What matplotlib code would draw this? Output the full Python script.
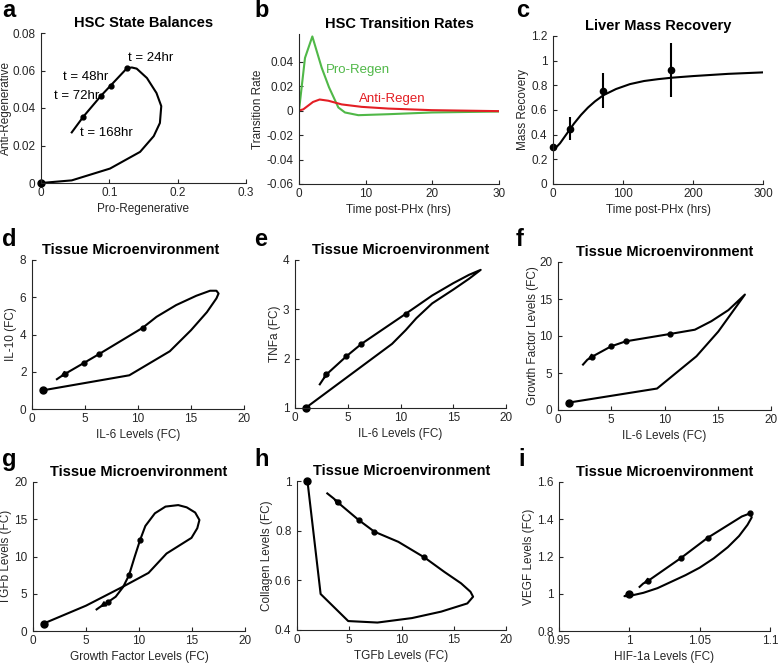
import matplotlib
matplotlib.use("Agg")
import matplotlib.pyplot as plt
from matplotlib.ticker import FormatStrFormatter

plt.rcParams['font.family'] = ['Liberation Sans', 'DejaVu Sans']
plt.rcParams['font.size'] = 8
GREY = '#262626'

### data ###

# a - HSC state balances
a_pro = [0, 0.045, 0.101, 0.145, 0.165, 0.174, 0.176, 0.169, 0.155, 0.140, 0.133,
         0.126, 0.102, 0.088, 0.062, 0.045]
a_anti = [0, 0.0014, 0.0077, 0.0166, 0.025, 0.032, 0.041, 0.048, 0.056, 0.061, 0.0616,
          0.0613, 0.052, 0.0466, 0.0354, 0.027]
a_mk_pro = [0.126, 0.102, 0.088, 0.062]
a_mk_anti = [0.0613, 0.052, 0.0466, 0.0354]
a_labels = ['t = 24hr', 't = 48hr', 't = 72hr', 't = 168hr']

# b - transition rates
b_t_pro = [0, 0.9, 2.0, 3.4, 4.5, 5.9, 6.9, 8.9, 13.4, 19.9, 30]
b_pro = [0, 0.043, 0.0605, 0.035, 0.019, 0.0025, -0.0016, -0.0038, -0.003, -0.0016, -0.0008]
b_t_anti = [0, 0.65, 2.1, 3.1, 4.4, 6.4, 9.4, 13.4, 19.9, 30]
b_anti = [0, 0.001, 0.007, 0.009, 0.008, 0.005, 0.003, 0.0016, 0.0003, -0.0005]

# c - liver mass recovery
c_t = [0, 5, 10, 20, 30, 40, 50, 60, 72, 90, 110, 130, 150, 170, 200, 250, 300]
c_mass = [0.3, 0.3, 0.33, 0.41, 0.49, 0.56, 0.62, 0.67, 0.72, 0.77, 0.81, 0.835, 0.85,
          0.862, 0.875, 0.893, 0.905]
c_obs_t = [0, 24, 72, 168]
c_obs = [0.3, 0.45, 0.755, 0.925]
c_err = [0.0, 0.095, 0.142, 0.218]

# d - IL-6 vs IL-10
d_x = [1, 9.18, 13.0, 15.0, 16.5, 17.4, 17.6, 17.4, 16.8, 15.5, 13.6, 11.75, 10.44,
       6.3, 4.92, 3.07, 2.66, 2.35]
d_y = [1, 1.81, 3.1, 4.23, 5.2, 5.94, 6.2, 6.35, 6.35, 6.08, 5.58, 4.95, 4.36,
       2.94, 2.48, 1.87, 1.72, 1.6]
d_mk_x = [10.44, 6.3, 4.92, 3.07]
d_mk_y = [4.36, 2.94, 2.48, 1.87]

# e - IL-6 vs TNFa
e_x = [1, 9.2, 10.5, 11.5, 13.0, 15.0, 16.5, 17.6, 16.5, 15.0, 13.0, 10.5, 6.3, 4.88,
       2.98, 2.66, 2.35]
e_y = [1, 2.3, 2.58, 2.82, 3.12, 3.4, 3.62, 3.8, 3.7, 3.53, 3.28, 2.91, 2.30, 2.05,
       1.68, 1.58, 1.48]
e_mk_x = [10.5, 6.3, 4.88, 2.98]
e_mk_y = [2.91, 2.30, 2.05, 1.68]

# f - IL-6 vs growth factor
f_x = [1, 9.3, 13.0, 15.05, 17.55, 16.0, 14.4, 12.85, 10.5, 6.36, 4.98, 3.2, 2.76, 2.35]
f_y = [1, 2.9, 7.26, 10.6, 15.6, 13.5, 12.0, 10.85, 10.27, 9.28, 8.6, 7.2, 6.8, 6.14]
f_mk_x = [10.5, 6.36, 4.98, 3.2]
f_mk_y = [10.27, 9.28, 8.6, 7.2]

# g - growth factor vs TGFb
g_x = [1, 5.0, 8.5, 10.9, 12.6, 14.95, 15.5, 15.7, 15.3, 14.5, 13.7, 12.5, 11.5, 10.6,
       10.1, 9.6, 9.06, 8.5, 7.8, 7.05, 6.3, 6.0]
g_y = [1, 3.4, 5.96, 7.8, 10.4, 12.5, 13.8, 14.9, 15.9, 16.6, 16.9, 16.7, 15.8, 14.1,
       12.2, 10.0, 7.5, 5.9, 4.6, 3.86, 3.2, 2.9]
g_mk_x = [10.1, 9.06, 7.05]
g_mk_y = [12.2, 7.5, 3.86]

# h - TGFb vs collagen
h_x = [1, 2.26, 4.9, 7.7, 11.0, 13.8, 16.3, 16.85, 16.6, 15.7, 14.1, 12.2, 9.7, 7.4,
       5.9, 3.9, 3.5, 2.9]
h_y = [1, 0.545, 0.436, 0.43, 0.448, 0.474, 0.507, 0.534, 0.554, 0.588, 0.634, 0.692,
       0.755, 0.796, 0.843, 0.914, 0.93, 0.95]
h_mk_x = [12.2, 7.4, 5.9, 3.9]
h_mk_y = [0.692, 0.796, 0.843, 0.914]

# i - HIF-1a vs VEGF
i_x = [1.0, 0.9975, 0.9965, 1.0, 1.01, 1.02, 1.03, 1.04, 1.05, 1.06, 1.07, 1.078, 1.084,
       1.087, 1.086, 1.08, 1.0556, 1.0369, 1.0135, 1.0099, 1.0073]
i_y = [1.0, 0.99, 0.987, 0.988, 1.005, 1.03, 1.065, 1.10, 1.14, 1.19, 1.25, 1.31, 1.37,
       1.41, 1.432, 1.415, 1.30, 1.193, 1.07, 1.055, 1.037]
i_mk_x = [1.086, 1.0556, 1.0369, 1.0135]
i_mk_y = [1.432, 1.30, 1.193, 1.07]


### helpers ###

fig = plt.figure(figsize=(7.78, 6.66), dpi=100)
W, H = 778.0, 666.0


def ax_at(l, t, r, b):
    return fig.add_axes([l / W, 1 - b / H, (r - l) / W, (b - t) / H])


def style(ax, xlim, ylim, xticks, yticks, xlabel, ylabel, title, yoff, tx=0.5):
    ax.set_xlim(xlim)
    ax.set_ylim(ylim)
    ax.set_xticks(xticks)
    ax.set_yticks(yticks)
    ax.xaxis.set_major_formatter(FormatStrFormatter('%g'))
    ax.yaxis.set_major_formatter(FormatStrFormatter('%g'))
    for s in ['top', 'right']:
        ax.spines[s].set_visible(False)
    for s in ['left', 'bottom']:
        ax.spines[s].set_color(GREY)
        ax.spines[s].set_linewidth(0.8)
    ax.tick_params(direction='in', length=3, width=0.8, colors=GREY, labelsize=8.5)
    ax.tick_params(axis='x', pad=3)
    ax.tick_params(axis='y', pad=4)
    ax.set_xlabel(xlabel, fontsize=8.5, color=GREY, labelpad=3)
    ax.set_ylabel(ylabel, fontsize=8.5, color=GREY)
    # yoff = distance in pixels from the axis to the centre of the y label;
    # the label anchor is its right edge, about 5 px right of the centre
    w_px = ax.get_position().width * W
    ax.yaxis.set_label_coords(-(yoff - 5) / w_px, 0.5)
    ax.set_title(title, fontsize=10.5, fontweight='bold', pad=4, x=tx)


def trajectory(ax, x, y, mx, my, arrow=True):
    ax.plot(x, y, color='k', lw=1.5, clip_on=False, solid_joinstyle='round')
    ax.plot(mx, my, 'o', color='k', ms=3.5, clip_on=False)
    ax.plot(x[0], y[0], 'o', color='k', ms=5, clip_on=False)
    if arrow:  # small head pointing along the end of the path
        ax.annotate('', xy=(x[-2], y[-2]), xytext=(x[-3], y[-3]),
                    arrowprops=dict(arrowstyle='-|>', color='k', lw=1.2, mutation_scale=8,
                                    shrinkA=0, shrinkB=0))


def letter(x, y, s):
    fig.text(x / W, 1 - y / H, s, fontsize=17, fontweight='bold', va='baseline')


### a ###
ax = ax_at(41, 33, 246, 183)
trajectory(ax, a_pro, a_anti, a_mk_pro, a_mk_anti, arrow=False)
ax.text(0.128, 0.0665, a_labels[0], fontsize=9.5, ha='left', va='center')
ax.text(0.098, 0.0565, a_labels[1], fontsize=9.5, ha='right', va='center')
ax.text(0.085, 0.0463, a_labels[2], fontsize=9.5, ha='right', va='center')
ax.text(0.057, 0.0268, a_labels[3], fontsize=9.5, ha='left', va='center')
style(ax, (0, 0.3), (0, 0.08), [0, 0.1, 0.2, 0.3], [0, 0.02, 0.04, 0.06, 0.08],
      'Pro-Regenerative', 'Anti-Regenerative', 'HSC State Balances', 34)

### b ###
ax = ax_at(299, 34, 499, 184)
green, red = '#50b848', '#e31e24'
ax.plot(b_t_pro, b_pro, color=green, lw=1.5)
ax.plot(b_t_anti, b_anti, color=red, lw=1.5)
ax.text(4.0, 0.033, 'Pro-Regen', color=green, fontsize=9.5, va='center')
ax.text(9.0, 0.0098, 'Anti-Regen', color=red, fontsize=9.5, va='center')
style(ax, (0, 30), (-0.06, 0.0625), [0, 10, 20, 30], [-0.06, -0.04, -0.02, 0, 0.02, 0.04],
      'Time post-PHx (hrs)', 'Transition Rate', 'HSC Transition Rates', 40)

### c ###
ax = ax_at(553, 36, 763, 184)
ax.plot(c_t, c_mass, color='k', lw=1.5)
ax.errorbar(c_obs_t, c_obs, yerr=c_err, fmt='o', color='k', ms=4.5, elinewidth=1.5,
            capsize=0, clip_on=False)
style(ax, (0, 300), (0, 1.2), [0, 100, 200, 300], [0, 0.2, 0.4, 0.6, 0.8, 1, 1.2],
      'Time post-PHx (hrs)', 'Mass Recovery', 'Liver Mass Recovery', 29)

### d ###
ax = ax_at(32, 260, 244, 409)
trajectory(ax, d_x, d_y, d_mk_x, d_mk_y)
style(ax, (0, 20), (0, 8), [0, 5, 10, 15, 20], [0, 2, 4, 6, 8],
      'IL-6 Levels (FC)', 'IL-10 (FC)', 'Tissue Microenvironment', 20, tx=0.465)

### e ###
ax = ax_at(295, 260, 506, 408)
trajectory(ax, e_x, e_y, e_mk_x, e_mk_y)
style(ax, (0, 20), (1, 4), [0, 5, 10, 15, 20], [1, 2, 3, 4],
      'IL-6 Levels (FC)', 'TNFa (FC)', 'Tissue Microenvironment', 19)

### f ###
ax = ax_at(558, 262, 771, 410)
trajectory(ax, f_x, f_y, f_mk_x, f_mk_y)
style(ax, (0, 20), (0, 20), [0, 5, 10, 15, 20], [0, 5, 10, 15, 20],
      'IL-6 Levels (FC)', 'Growth Factor Levels (FC)', 'Tissue Microenvironment', 24)

### g ###
ax = ax_at(33, 482, 245, 631)
trajectory(ax, g_x, g_y, g_mk_x, g_mk_y)
style(ax, (0, 20), (0, 20), [0, 5, 10, 15, 20], [0, 5, 10, 15, 20],
      'Growth Factor Levels (FC)', 'TGFb Levels (FC)', 'Tissue Microenvironment', 26)

### h ###
ax = ax_at(297, 481, 506, 630)
trajectory(ax, h_x, h_y, h_mk_x, h_mk_y)
style(ax, (0, 20), (0.4, 1), [0, 5, 10, 15, 20], [0.4, 0.6, 0.8, 1],
      'TGFb Levels (FC)', 'Collagen Levels (FC)', 'Tissue Microenvironment', 29)

### i ###
ax = ax_at(559, 482, 770, 631)
trajectory(ax, i_x, i_y, i_mk_x, i_mk_y)
style(ax, (0.95, 1.1), (0.8, 1.6), [0.95, 1, 1.05, 1.1], [0.8, 1, 1.2, 1.4, 1.6],
      'HIF-1a Levels (FC)', 'VEGF Levels (FC)', 'Tissue Microenvironment', 29)

### panel letters ###
letter(2, 17, 'a')
letter(254, 17, 'b')
letter(516, 17, 'c')
letter(2, 246, 'd')
letter(254, 246, 'e')
letter(516, 246, 'f')
letter(2, 466, 'g')
letter(254, 466, 'h')
letter(518, 466, 'i')

fig.savefig('out.png', dpi=100)
